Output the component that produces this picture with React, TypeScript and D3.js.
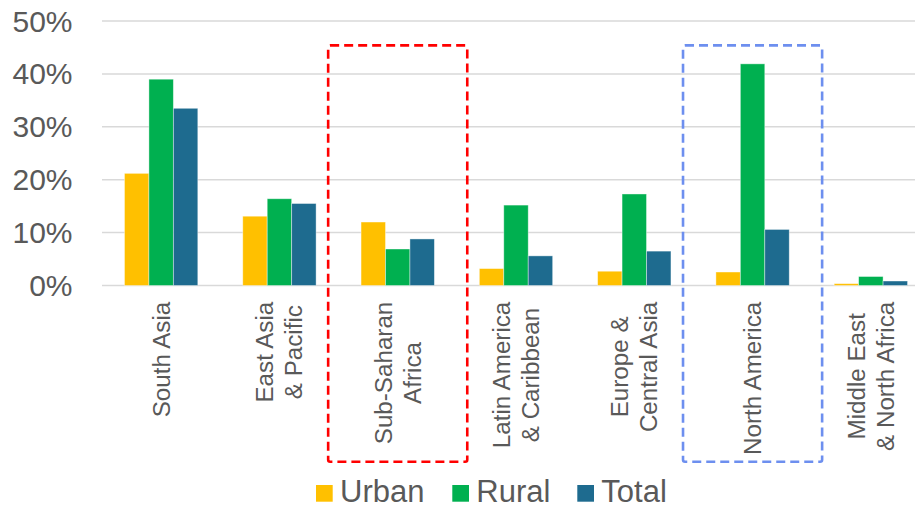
import React, { useEffect, useRef } from "react";
import * as d3 from "d3";

const categories: string[][] = [
  ["South Asia"],
  ["East Asia", "& Pacific"],
  ["Sub-Saharan", "Africa"],
  ["Latin America", "& Caribbean"],
  ["Europe &", "Central Asia"],
  ["North America"],
  ["Middle East", "& North Africa"],
];
const seriesNames = ["Urban", "Rural", "Total"];
const urban = [21.2, 13.1, 12.0, 3.2, 2.7, 2.55, 0.35];
const rural = [39.0, 16.4, 6.9, 15.2, 17.3, 41.9, 1.7];
const total = [33.5, 15.5, 8.8, 5.6, 6.5, 10.6, 0.85];
const yTicks = [0, 10, 20, 30, 40, 50];
const highlightRed = 2;
const highlightBlue = 5;

const colors = ["#FFC000", "#00B050", "#1E6B8F"];

export default function App() {
  const ref = useRef<SVGSVGElement>(null);
  useEffect(() => {
    const svg = d3.select(ref.current);
    svg.selectAll("*").remove();
    const W = 915;
    const left = 102, right = 930, top = 21, bottom = 285.5;
    const font = "'Liberation Sans', Arial, sans-serif";
    const x = d3.scaleBand<number>().domain(d3.range(categories.length)).range([left, right]);
    const bw = x.bandwidth();
    const inner = d3.scaleBand<number>().domain([0, 1, 2]).range([bw * 0.19, bw * 0.81]);
    const y = d3.scaleLinear().domain([0, 50]).range([bottom, top]);

    // gridlines
    svg.append("g").selectAll("line").data(yTicks).join("line")
      .attr("x1", left).attr("x2", W)
      .attr("y1", (d) => y(d)).attr("y2", (d) => y(d))
      .attr("stroke", "#D9D9D9").attr("stroke-width", 1.5);

    // y tick labels
    svg.append("g").selectAll("text").data(yTicks).join("text")
      .attr("x", 72.5).attr("y", (d) => y(d)).attr("dy", "0.35em")
      .attr("text-anchor", "end").attr("font-family", font).attr("font-size", 30)
      .attr("fill", "#595959").text((d) => `${d}%`);

    // bars
    const data = [urban, rural, total];
    data.forEach((vals, si) => {
      svg.append("g").selectAll("rect").data(vals).join("rect")
        .attr("x", (_, i) => (x(i) as number) + (inner(si) as number))
        .attr("width", inner.bandwidth())
        .attr("y", (d) => y(d)).attr("height", (d) => y(0) - y(d))
        .attr("fill", colors[si])
        .attr("stroke", "#ffffff").attr("stroke-opacity", 0.5).attr("stroke-width", 0.8);
    });

    // category labels
    const labelTop = 301.7;
    const lineGap = 29;
    categories.forEach((lines, i) => {
      const cx = (x(i) as number) + bw / 2;
      const g = svg.append("g");
      const texts = lines.map((l, li) => {
        const lx = cx + (li - (lines.length - 1) / 2) * lineGap;
        return g.append("text")
          .attr("font-family", font).attr("font-size", 24.2).attr("fill", "#595959")
          .attr("text-anchor", "middle").attr("dy", "0.35em")
          .attr("data-x", lx).text(l);
      });
      const maxLen = d3.max(texts, (t) => (t.node() as SVGTextElement).getComputedTextLength()) || 0;
      const cy = labelTop + maxLen / 2;
      texts.forEach((t) => {
        const lx = +t.attr("data-x");
        t.attr("transform", `translate(${lx},${cy}) rotate(-90)`);
      });
    });

    // dashed highlight boxes
    const boxTop = y(45.4);
    const boxBottom = 461.7;
    [[highlightRed, "#FF0000"], [highlightBlue, "#6D8FEF"]].forEach(([idx, col]) => {
      const cx = (x(idx as number) as number) + bw / 2;
      const half = bw * 0.588;
      svg.append("rect")
        .attr("x", cx - half).attr("y", boxTop)
        .attr("width", half * 2).attr("height", boxBottom - boxTop)
        .attr("rx", 2)
        .attr("fill", "none").attr("stroke", col as string).attr("stroke-width", 2.6)
        .attr("stroke-dasharray", "9,5");
    });

    // legend
    const legendItems = [
      { name: seriesNames[0], sx: 316 },
      { name: seriesNames[1], sx: 452.3 },
      { name: seriesNames[2], sx: 577.3 },
    ];
    legendItems.forEach((it, i) => {
      svg.append("rect").attr("x", it.sx).attr("y", 485).attr("width", 16.7).attr("height", 16.7)
        .attr("fill", colors[i]);
      svg.append("text").attr("x", it.sx + 24).attr("y", 502)
        .attr("font-family", font).attr("font-size", 31).attr("fill", "#595959").text(it.name);
    });
  }, []);
  return (
    <svg ref={ref} width={915} height={508}
      style={{ position: "absolute", left: 0, top: 0, background: "#fff" }} />
  );
}
